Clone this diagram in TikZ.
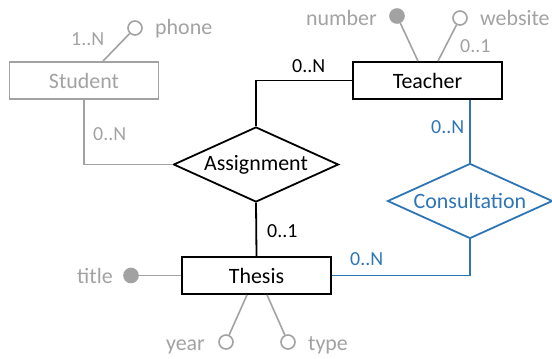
\documentclass[tikz,border=0pt]{standalone}
\usepackage{fontspec}
\setmainfont{Carlito}
\usetikzlibrary{shapes.geometric}
\definecolor{attrgray}{HTML}{A2A2A2}
\definecolor{relblue}{HTML}{2E75B6}
\tikzset{
  entity/.style={draw, rectangle, line width=1.8bp, minimum width=149bp, minimum height=37bp, inner sep=0pt, font=\fontsize{22}{26}\selectfont},
  relation/.style={draw, diamond, line width=1.8bp, aspect=2.2, minimum width=165bp, minimum height=75bp, inner sep=0pt, font=\fontsize{22}{26}\selectfont},
  openattr/.style={draw=attrgray, fill=white, circle, line width=1.6bp, minimum size=14bp, inner sep=0pt},
  keyattr/.style={draw=attrgray, fill=attrgray, circle, line width=1.6bp, minimum size=14bp, inner sep=0pt},
  attrtext/.style={text=attrgray, inner sep=0pt, font=\fontsize{22}{26}\selectfont},
  card/.style={inner sep=0pt, font=\fontsize{20}{24}\selectfont},
  conn/.style={line width=1.8bp},
  gconn/.style={line width=1.6bp, draw=attrgray},
  bconn/.style={line width=1.8bp, draw=relblue}
}
\begin{document}
\begin{tikzpicture}[x=1bp, y=-1bp]
\useasboundingbox (0,0) rectangle (552,358);
% entities
\node[entity, draw=attrgray, text=attrgray] (student) at (84,80.5) {Student};
\node[entity] (teacher) at (427.5,80.5) {Teacher};
\node[entity] (thesis) at (256.5,275.5) {Thesis};
% relations
\node[relation] (assign) at (256,164.5) {Assignment};
\node[relation, draw=relblue, text=relblue] (consult) at (470,201) {Consultation};
% attributes
\node[openattr] (phone) at (135,28) {};
\node[keyattr] (number) at (397,16) {};
\node[openattr] (website) at (460,18) {};
\node[keyattr] (title) at (131,275.5) {};
\node[openattr] (year) at (226,342) {};
\node[openattr] (type) at (288,342) {};
% attribute lines
\draw[gconn] (phone) -- ([xshift=19bp]student.north);
\draw[gconn] (number) -- ([xshift=-9.5bp]teacher.north);
\draw[gconn] (website) -- ([xshift=10.5bp]teacher.north);
\draw[gconn] (title) -- (thesis.west);
\draw[gconn] (year) -- ([xshift=-9.5bp]thesis.south);
\draw[gconn] (type) -- ([xshift=10.5bp]thesis.south);
% attribute texts
\node[attrtext, anchor=base west] (phonet) at (155,34) {phone};
\node[attrtext, anchor=base east] (numbert) at (377,25) {number};
\node[attrtext, anchor=base west] (websitet) at (480,25) {website};
\node[attrtext, anchor=base west] (titlet) at (77,283) {title};
\node[attrtext, anchor=base east] (yeart) at (205,350) {year};
\node[attrtext, anchor=base west] (typet) at (308,350) {type};
% relation connectors
\draw[gconn] (student.south) |- (assign.west);
\draw[conn] (assign.north) |- (teacher.west);
\draw[conn] (assign.south) -- (thesis.north);
\draw[bconn] (consult.north |- teacher.south) -- (consult.north);
\draw[bconn] (consult.south) |- (thesis.east);
% cardinalities
\node[card, text=attrgray, anchor=base west] (c1) at (71,45) {1..N};
\node[card, text=attrgray, anchor=base west] (c2) at (93,140) {0..N};
\node[card, anchor=base west] (c3) at (292,72) {0..N};
\node[card, text=attrgray, anchor=base west] (c4) at (460,52) {0..1};
\node[card, text=relblue, anchor=base west] (c5) at (431,133) {0..N};
\node[card, anchor=base west] (c6) at (267,237) {0..1};
\node[card, text=relblue, anchor=base west] (c7) at (350,265) {0..N};
\end{tikzpicture}
\end{document}
